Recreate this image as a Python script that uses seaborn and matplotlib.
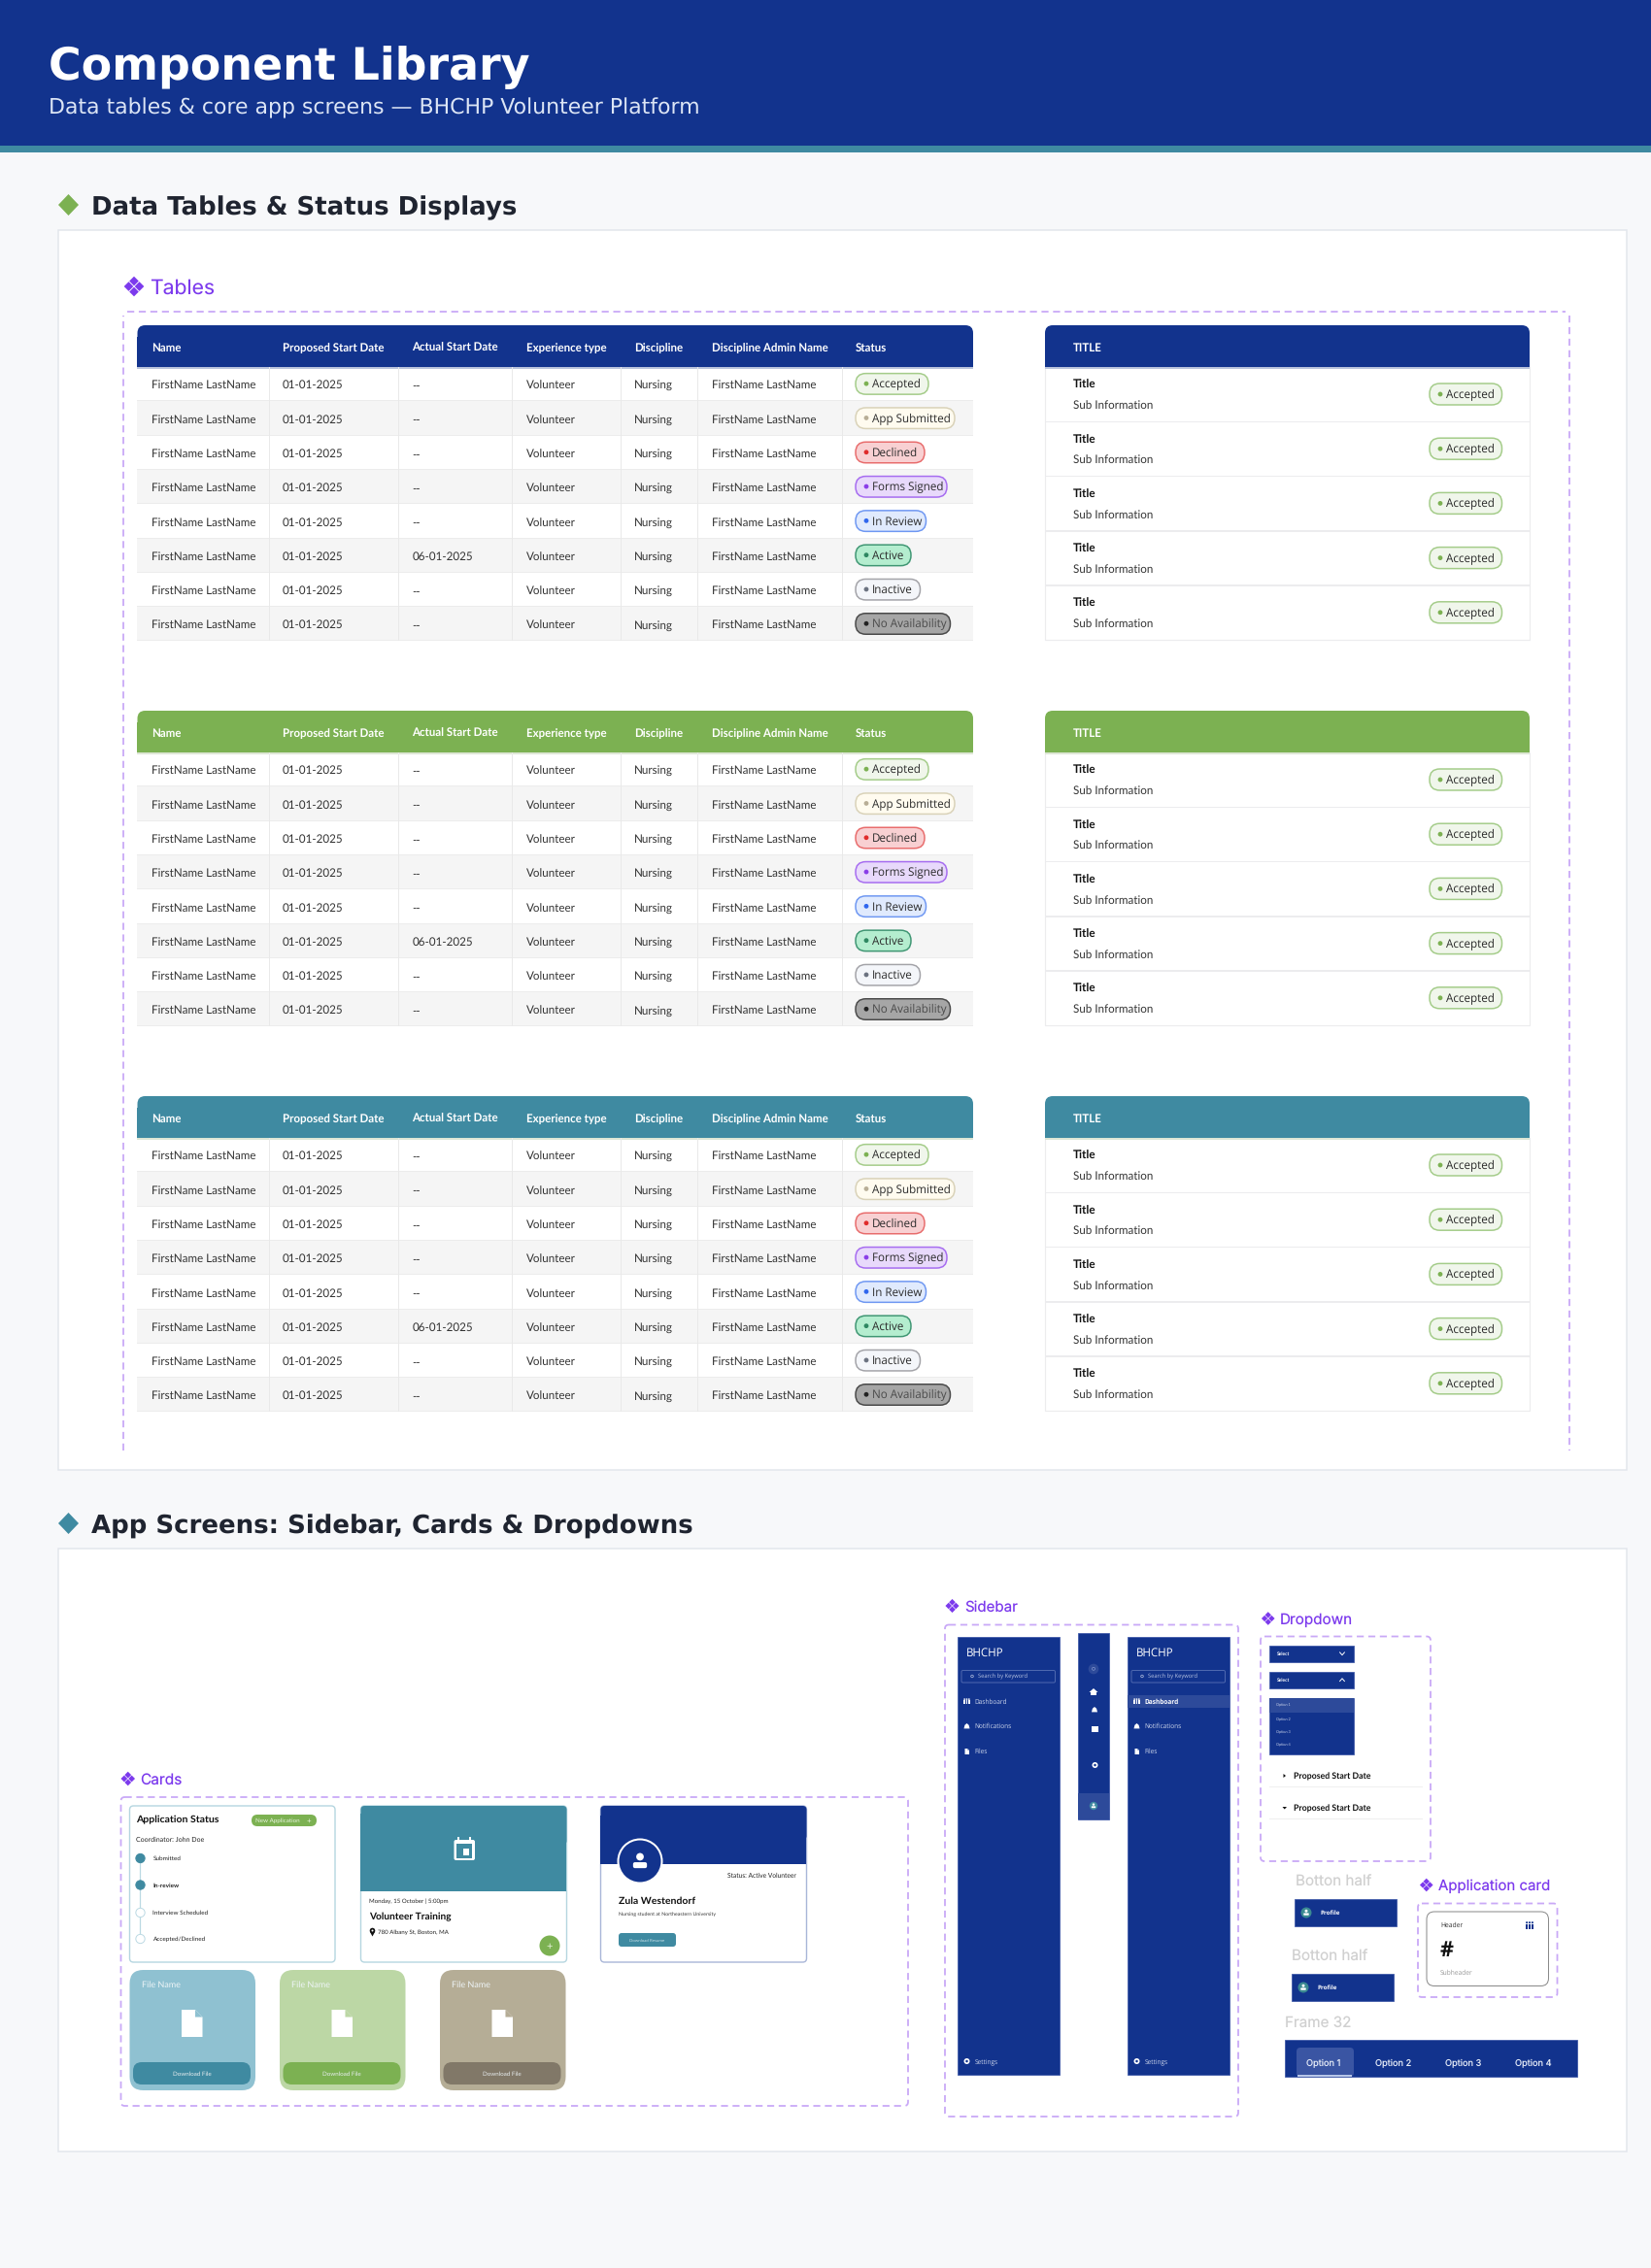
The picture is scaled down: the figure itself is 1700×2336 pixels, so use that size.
import matplotlib
matplotlib.use("Agg")
import matplotlib.pyplot as plt
import pandas as pd
import seaborn as sns
from matplotlib.font_manager import FontProperties
from matplotlib.patches import Circle, FancyBboxPatch, Polygon, Rectangle
from matplotlib.textpath import TextPath

# table content
columns = ['Name', 'Proposed Start Date', 'Actual Start Date', 'Experience type', 'Discipline', 'Discipline Admin Name', 'Status']
names = ['FirstName LastName'] * 8
proposed_dates = ['01-01-2025'] * 8
actual_dates = ['--', '--', '--', '--', '--', '06-01-2025', '--', '--']
experience = ['Volunteer'] * 8
discipline = ['Nursing'] * 8
admins = ['FirstName LastName'] * 8
statuses = ['Accepted', 'App Submitted', 'Declined', 'Forms Signed', 'In Review', 'Active', 'Inactive', 'No Availability']
status_fill = ['#F0F6EB', '#FFFBEF', '#F8D0D2', '#E8D9FB', '#E0EAFD', '#B4EDCF', '#F4F6FA', '#A6A6A6']
status_edge = ['#A4CC89', '#D9D2B8', '#E86C6C', '#A66CF0', '#6E97F2', '#3F9673', '#A3A3A8', '#4A4A4A']
status_dot = ['#7CB152', '#B8AE96', '#E02B2B', '#8A3DE8', '#2F66EE', '#2E8762', '#6B7280', '#222222']
status_text = ['#2B2B2B'] * 7 + ['#4A4A4A']
status_width = [75, 102, 71, 94, 72.5, 57, 66.5, 97.5]
header_colors = ['#12338D', '#7CB152', '#3F8AA1']
list_titles = ['Title'] * 5
list_subs = ['Sub Information'] * 5

# card content
timeline_steps = ['Submitted', 'In-review', 'Interview Scheduled', 'Accepted/Declined']
timeline_done = [True, True, False, False]
file_fill = ['#8FC1D1', '#BCD7A5', '#B5AD96']
file_button = ['#3F8AA1', '#7CB152', '#817868']
menu_items = ['Dashboard', 'Notifications', 'Files']
option_labels = ['Option 1', 'Option 2', 'Option 3', 'Option 4']

NAVY = '#12338D'
TEAL = '#3F8AA1'
GREEN = '#7CB152'
PURPLE = '#7C3AED'
DASH = '#C9A9F7'
LATO = 'Lato'
PILL = 'Open Sans'
DEJA = 'DejaVu Sans'

sns.set_theme(style='white')
plt.rcParams['font.family'] = [DEJA]
plt.rcParams['text.hinting'] = 'none'

fig = plt.figure(figsize=(17, 23.36), dpi=100, facecolor='#F7F8FA')
ax = fig.add_axes([0, 0, 1, 1])
ax.set_xlim(0, 1700)
ax.set_ylim(2336, 0)
ax.axis('off')


def fit(s, w, family=DEJA, weight='normal'):
    # font size in px that makes s about w px wide
    path = TextPath((0, 0), s, size=100, prop=FontProperties(family=family, weight=weight))
    return 100 * w / path.get_extents().width


def rect(x0, y0, x1, y1, fc, ec='none', lw=0, z=2):
    ax.add_patch(Rectangle((x0, y0), x1 - x0, y1 - y0, fc=fc, ec=ec, lw=lw * 0.72, zorder=z))


def rrect(x0, y0, x1, y1, r, fc, ec='none', lw=0, z=2, ls='-'):
    ax.add_patch(FancyBboxPatch((x0, y0), x1 - x0, y1 - y0, boxstyle=f'round,pad=0,rounding_size={r}',
                                fc=fc, ec=ec, lw=lw * 0.72, zorder=z, ls=ls))


def txt(x, y, s, px, color='#333333', family=DEJA, weight='normal', ha='left', z=6):
    # y is the middle of the capitals, so neighbouring cells share a baseline
    ax.text(x, y + px * 0.36, s, fontsize=px * 0.72, color=color, family=family, fontweight=weight,
            ha=ha, va='baseline', zorder=z)


def ftxt(x, y, s, w, color='#333333', family=DEJA, weight='normal', ha='left', z=6):
    txt(x, y, s, fit(s, w, family, weight), color, family, weight, ha, z)


def poly(pts, fc, z=5):
    ax.add_patch(Polygon(pts, closed=True, fc=fc, ec='none', zorder=z))


def circ(x, y, r, fc, ec='none', lw=0, z=5):
    ax.add_patch(Circle((x, y), r, fc=fc, ec=ec, lw=lw * 0.72, zorder=z))


def dashed(x0, y0, x1, y1):
    rrect(x0, y0, x1, y1, 4, 'none', DASH, 1.8, z=3, ls=(0, (4, 2.6)))


def comp_icon(cx, cy, size):
    # four small diamonds, the component glyph
    d = size * 0.25
    for dx, dy in [(0, -d), (0, d), (-d, 0), (d, 0)]:
        r = size * 0.22
        poly([(cx + dx, cy + dy - r), (cx + dx + r, cy + dy), (cx + dx, cy + dy + r), (cx + dx - r, cy + dy)], PURPLE)


def label(x0, xt, y, s, w):
    comp_icon((x0 + xt - 5) / 2, y, xt - 5 - x0)
    ftxt(xt, y, s, w, PURPLE, 'Inter')


def person(cx, cy, s, color):
    circ(cx, cy - s * 0.35, s * 0.3, color, z=7)
    rrect(cx - s * 0.55, cy + s * 0.08, cx + s * 0.55, cy + s * 0.55, s * 0.15, color, z=7)


def file_icon(x0, y0, x1, y1, fc, fold):
    f = (x1 - x0) * 0.35
    poly([(x0, y0), (x1 - f, y0), (x1, y0 + f), (x1, y1), (x0, y1)], fc, z=6)
    poly([(x1 - f, y0), (x1, y0 + f), (x1 - f, y0 + f)], fold, z=7)


def bell(cx, cy, s):
    poly([(cx - s * .5, cy + s * .4), (cx - s * .35, cy - s * .2), (cx, cy - s * .5), (cx + s * .35, cy - s * .2),
          (cx + s * .5, cy + s * .4)], 'white', z=7)


def gear(cx, cy, r, bg=NAVY):
    circ(cx, cy, r, 'white', z=7)
    circ(cx, cy, r * 0.42, bg, z=8)


def people(cx, cy, s, color):
    for dx in (-s * .36, 0, s * .36):
        rect(cx + dx - s * .13, cy - s * .15, cx + dx + s * .13, cy + s * .45, color, z=7)
        circ(cx + dx, cy - s * .35, s * .13, color, z=7)


# page banner
rect(0, 0, 1700, 150, NAVY)
rect(0, 150, 1700, 157, TEAL)
ftxt(50, 65.5, 'Component Library', 493, 'white', weight='bold')
ftxt(50, 109.5, 'Data tables & core app screens \u2014 BHCHP Volunteer Platform', 668, '#DCE5F5')

# section headings and white panels
head_px = fit('Data Tables & Status Displays', 435, DEJA, 'bold')
poly([(70.5, 200), (81, 211), (70.5, 222), (60, 211)], GREEN)
txt(94, 212, 'Data Tables & Status Displays', head_px, '#1F2430', weight='bold')
rect(60.5, 236.5, 1675, 1514, 'white', '#E2E6EC', 1.5, z=1)
poly([(70.5, 1558), (81, 1569), (70.5, 1580), (60, 1569)], TEAL)
txt(94, 1570, 'App Screens: Sidebar, Cards & Dropdowns', head_px, '#1F2430', weight='bold')
rect(60.5, 1594.5, 1675, 2216, 'white', '#E2E6EC', 1.5, z=1)

# tables section
label(127, 154, 295, 'Tables', 65)
ax.plot([127, 127], [1494, 325], color=DASH, lw=1.3, ls=(0, (4, 2.6)), zorder=3)
ax.plot([131, 1612], [321, 321], color=DASH, lw=1.3, ls=(0, (4, 2.6)), zorder=3)
ax.plot([1616, 1616], [325, 1494], color=DASH, lw=1.3, ls=(0, (4, 2.6)), zorder=3)

col_x = [156, 291, 424.5, 542, 653, 733, 881]
sep_x = [277, 410, 527, 639, 718, 867]
row_h = 35.3
body_px = fit('FirstName LastName', 106, LATO)
th_px = fit('Proposed Start Date', 103.5, LATO, 'bold')
pill_px = fit('Accepted', 49, PILL)
title_px = fit('Title', 23, LATO, 'bold')
sub_px = fit('Sub Information', 81, LATO)
dot_rows = []
for top, head in zip([335, 732, 1129], header_colors):
    body = top + 43
    # main table
    rrect(141.5, top, 1002, body - 10, 8, head)
    rect(141.5, top + 12, 1002, body, head)
    rect(141.5, body, 1002, body + 1.5, '#B9C3DC' if head == NAVY else '#DDE6D5', z=3)
    for cx, col in zip(col_x, columns):
        # agg rounds this label a pixel high, nudge it back onto the row
        nudge = 0.7 if col == 'Actual Start Date' else 0
        txt(cx, top + 22.4 + nudge, col, th_px, 'white', LATO, 'bold')
    for i in range(8):
        y0 = body + i * row_h
        rect(141.5, y0, 1002, y0 + row_h, 'white' if i % 2 == 0 else '#F5F5F5')
        rect(141.5, y0 + row_h - 1, 1002, y0 + row_h, '#ECECEC', z=3)
        yc = y0 + row_h / 2
        cells = [names[i], proposed_dates[i], actual_dates[i], experience[i], discipline[i], admins[i]]
        for cx, val in zip(col_x, cells):
            txt(cx, yc + 0.4, val, body_px, '#333333', LATO)
        rrect(881, yc - 11, 881 + status_width[i], yc + 10.5, 10.5, status_fill[i], status_edge[i], 1.5, z=4)
        txt(898, yc - 0.5, statuses[i], pill_px, status_text[i], PILL)
        dot_rows.append({'x': 892, 'y': yc - 0.5, 'status': statuses[i]})
    for sx in sep_x:
        rect(sx, body, sx + 1, body + 8 * row_h, '#E9E9E9', z=3)

    # list card
    rrect(1076, top, 1575, body - 10, 8, head)
    rect(1076, top + 12, 1575, body, head)
    rect(1076, body, 1575, body + 1.5, '#B9C3DC' if head == NAVY else '#DDE6D5', z=3)
    txt(1105, top + 22.4, 'TITLE', th_px, 'white', LATO, 'bold')
    rect(1076, body, 1575, body + 5 * 56.2, 'white', '#ECECEE', 1.2, z=1.5)
    for i in range(5):
        y0 = body + i * 56.2
        if i:
            rect(1076, y0 - 0.5, 1575, y0 + 1, '#ECECEE', z=3)
        txt(1105, y0 + 18, list_titles[i], title_px, '#111111', LATO, 'bold')
        txt(1105, y0 + 39, list_subs[i], sub_px, '#333333', LATO)
        rrect(1472, y0 + 17, 1546.5, y0 + 39, 10.5, status_fill[0], status_edge[0], 1.5, z=4)
        txt(1489, y0 + 28, statuses[0], pill_px, status_text[0], PILL)
        dot_rows.append({'x': 1483, 'y': y0 + 28, 'status': statuses[0]})

# status dots go through seaborn so the palette stays keyed by status
dots = pd.DataFrame(dot_rows)
sns.scatterplot(data=dots, x='x', y='y', hue='status', palette=dict(zip(statuses, status_dot)),
                s=12, linewidth=0, legend=False, ax=ax, zorder=6)

# cards
label(124, 144.5, 1832, 'Cards', 41.7)
dashed(124.5, 1851, 935, 2169)

rrect(133.5, 1860, 345, 2021, 4, 'white', '#B5D6E0', 1.4)
ftxt(140.5, 1874, 'Application Status', 85, '#111111', LATO, 'bold')
rrect(259, 1869, 326, 1881, 6, GREEN)
ftxt(263, 1875, 'New Application', 45, '#E9F3DF', LATO)
txt(316, 1875, '+', 8, '#E9F3DF', LATO)
ftxt(140.5, 1894, 'Coordinator: John Doe', 70, '#222222', LATO)
step_y = [1914, 1941.5, 1970, 1997]
ax.plot([144.5, 144.5], [step_y[0], step_y[-1]], color='#BBD9E3', lw=0.9, zorder=4)
steps = pd.DataFrame({'x': [144.5] * 4, 'y': step_y, 'step': timeline_steps})
sns.scatterplot(data=steps, x='x', y='y', s=45, linewidth=0.7, legend=False, ax=ax, zorder=5,
                c=[TEAL if d else 'white' for d in timeline_done],
                edgecolor=[TEAL if d else '#BBD9E3' for d in timeline_done])
step_px = fit('Submitted', 28, LATO)
for y, step, done in zip(step_y, timeline_steps, timeline_done):
    txt(157.5, y, step, step_px, '#222222', LATO, 'bold' if step == 'In-review' else 'normal')

rrect(371.5, 1860, 583.5, 2021, 4, 'white', '#B5D6E0', 1.4)
rrect(371.5, 1860, 583.5, 1900, 4, TEAL, z=3)
rect(371.5, 1868, 583.5, 1948, TEAL, z=3)
rrect(467.5, 1895, 489, 1916, 2, 'white', z=4)
rect(470, 1899, 486.5, 1913.5, TEAL, z=5)
rect(477, 1904, 483, 1911, 'white', z=6)
rect(471.5, 1892, 473.5, 1897, 'white', z=4)
rect(483, 1892, 485, 1897, 'white', z=4)
ftxt(380, 1958, 'Monday, 15 October | 5:00pm', 81, '#222222', LATO)
ftxt(380, 1974, 'Volunteer Training', 85, '#111111', LATO, 'bold')
circ(383.5, 1988.5, 2.8, '#111111')
poly([(380.8, 1989.5), (386.2, 1989.5), (383.5, 1994.5)], '#111111')
circ(383.5, 1988.5, 1, 'white', z=6)
ftxt(389, 1990, '780 Albany St, Boston, MA', 73, '#222222', LATO)
circ(566, 2004, 10.5, GREEN)
txt(566, 2004, '+', 11, '#E9F3DF', LATO, ha='center')

rrect(618.5, 1860, 830.5, 2021, 4, 'white', '#A9B6D8', 1.4)
rrect(618.5, 1860, 830.5, 1895, 4, NAVY, z=3)
rect(618.5, 1870, 830.5, 1920, NAVY, z=3)
circ(659, 1917, 22.5, NAVY, 'white', 2, z=4)
person(659, 1917, 13, 'white')
ftxt(820, 1932, 'Status: Active Volunteer', 70, '#222222', LATO, ha='right')
ftxt(637, 1957, 'Zula Westendorf', 78.6, '#111111', LATO, 'bold')
ftxt(637, 1971, 'Nursing student at Northeastern University', 100, '#333333', LATO)
rrect(637, 1991, 696, 2005, 3, TEAL)
ftxt(666.5, 1998, 'Download Resume', 36, '#C7E0E8', LATO, ha='center')

for x0, fill, btn in zip([133.5, 288, 453], file_fill, file_button):
    rrect(x0, 2029, x0 + 129.5, 2153, 14, fill)
    ftxt(x0 + 12.5, 2044, 'File Name', 39, '#EEF5F7', LATO)
    file_icon(x0 + 53.5, 2070, x0 + 75, 2098, 'white', fill)
    rrect(x0 + 3.5, 2126, x0 + 124.5, 2150, 9, fill, z=3)
    rrect(x0 + 3.5, 2124, x0 + 124.5, 2147, 9, btn, z=4)
    ftxt(x0 + 64, 2135.5, 'Download File', 39, '#E8EEF0', LATO, ha='center')

# sidebars
label(973, 993, 1654, 'Sidebar', 53.7)
dashed(973, 1673.5, 1275, 2180)
menu_px = fit('Notifications', 37.7, PILL)
for x0, active in [(986, False), (1161, True)]:
    rect(x0, 1686, x0 + 105, 2137, NAVY, '#3D58A8', 0.8)
    ftxt(x0 + 9, 1701.5, 'BHCHP', 37, 'white', 'Open Sans')
    rrect(x0 + 4, 1720.5, x0 + 100.5, 1733, 1.5, 'none', '#4E68B0', 1, z=4)
    circ(x0 + 15, 1726.5, 1.3, 'none', '#B7C3E2', 0.7)
    ftxt(x0 + 21, 1726.8, 'Search by Keyword', 50, '#B7C3E2', PILL)
    if active:
        rect(x0, 1746, x0 + 105, 1758.5, '#2D4A9A', z=3)
    for i, (item, y) in enumerate(zip(menu_items, [1752.4, 1778, 1804])):
        strong = active and i == 0
        txt(x0 + 17.7, y, item, menu_px, 'white' if strong else '#CBD4EA', PILL, 'bold' if strong else 'normal')
    people(x0 + 9.5, 1752.4, 6.5, 'white')
    bell(x0 + 9.5, 1778, 6)
    file_icon(x0 + 7.5, 1801, x0 + 12, 1807, 'white', NAVY)
    gear(x0 + 9.5, 2123, 3)
    txt(x0 + 17.7, 2123, 'Settings', menu_px, '#CBD4EA', PILL)

rect(1110, 1682, 1142, 1874, NAVY, '#3D58A8', 0.8)
rect(1110, 1847, 1142, 1874, '#2D4A9A', z=3)
circ(1126, 1719, 5.3, '#2D4A9A')
circ(1126, 1718.8, 1.5, 'none', '#8295CC', 0.7, z=6)
poly([(1126, 1739), (1130.5, 1743), (1129, 1743), (1129, 1746), (1123, 1746), (1123, 1743), (1121.5, 1743)], 'white')
bell(1127, 1761, 6)
rect(1124, 1778, 1131, 1784, 'white', z=6)
gear(1127.5, 1818, 3)
circ(1126, 1860, 4.2, TEAL)
person(1126, 1860, 4, 'white')

# dropdowns
label(1298.5, 1318, 1667, 'Dropdown', 72.7)
dashed(1298, 1685.5, 1473, 1917)
for y0, up in [(1695, False), (1722, True)]:
    rect(1307, y0, 1394, y0 + 17, NAVY, '#3D58A8', 0.8)
    ftxt(1315, y0 + 8.5, 'Select', 13.3, 'white', LATO, 'bold')
    tip, base = (y0 + 6.8, y0 + 9.7) if up else (y0 + 9.7, y0 + 6.8)
    ax.plot([1379.5, 1382, 1384.5], [base, tip, base], color='white', lw=0.7, zorder=6)
rect(1307, 1748.5, 1394.5, 1807, NAVY, '#3D58A8', 0.8)
rect(1307, 1748.5, 1394.5, 1764, '#2D4A9A', z=3)
for y, opt in zip([1756, 1770.7, 1783.7, 1797], option_labels):
    ftxt(1314, y, opt, 14.3, '#CBD4EA', LATO)
poly([(1321.5, 1827), (1324, 1829), (1321.5, 1831)], '#111111')
poly([(1320.5, 1861), (1325, 1861), (1322.7, 1863.5)], '#111111')
for y in [1829, 1862]:
    ftxt(1332.3, y, 'Proposed Start Date', 78.7, '#111111', LATO, 'bold')
rect(1307, 1840.3, 1465, 1841, '#EFEFEF')
rect(1307, 1873, 1465, 1873.7, '#EFEFEF')

# floating frames
for x_lab, y_lab, x0, y0 in [(1334, 1937, 1333, 1956), (1330, 2014, 1330, 2033)]:
    ftxt(x_lab, y_lab, 'Botton half', 76.7, '#D0D0D0', 'Inter')
    rect(x0, y0, x0 + 105, y0 + 28, NAVY, '#3D58A8', 0.8)
    circ(x0 + 12, y0 + 14, 5.5, '#3B8A92')
    person(x0 + 12, y0 + 14, 5, 'white')
    ftxt(x0 + 26, y0 + 14, 'Profile', 19.7, 'white', PILL, 'bold')
ftxt(1323, 2082, 'Frame 32', 66, '#D0D0D0', 'Inter')
rect(1322.7, 2100.7, 1623.7, 2139, NAVY, '#3D58A8', 0.8)
rrect(1335, 2109, 1394, 2139, 4, '#3A55A3', z=3)
rect(1336.5, 2137, 1392.5, 2138.5, '#B7C6E8', z=4)
option_px = fit('Option 1', 34, 'Inter')
for cx, opt in zip([1363, 1435, 1507, 1579], option_labels):
    txt(cx, 2125, opt, option_px, '#E4EAF6', 'Inter', ha='center')

label(1461.5, 1481, 1941.5, 'Application card', 113.7)
dashed(1460, 1960.5, 1603.5, 2057)
rrect(1469, 1969, 1594.5, 2045.5, 8, 'white', '#8A8A8A', 1)
ftxt(1483, 1982.7, 'Header', 22.3, '#333333', PILL)
people(1575, 1983, 8, NAVY)
ftxt(1483, 2007.7, '#', 13, '#111111', PILL, 'bold')
ftxt(1483, 2032, 'Subheader', 33.3, '#999999', PILL)

fig.savefig('out.png', dpi=100, facecolor=fig.get_facecolor())
